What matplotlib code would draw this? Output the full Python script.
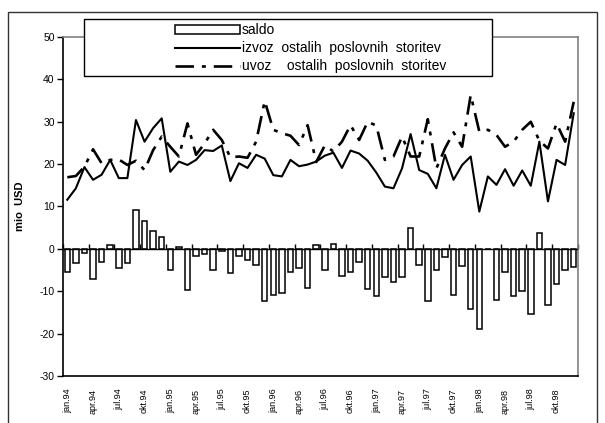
import numpy as np
import matplotlib
matplotlib.use("Agg")
import matplotlib.pyplot as plt
from matplotlib.patches import Rectangle

plt.rcParams['font.family'] = ['Liberation Sans', 'DejaVu Sans']
plt.rcParams['axes.unicode_minus'] = False

months = ['jan', 'feb', 'mar', 'apr', 'maj', 'jun', 'jul', 'avg', 'sep', 'okt', 'nov', 'dec']
years = ['94', '95', '96', '97', '98']
categories = [f"{m}.{y}" for y in years for m in months]

saldo = [-5.4, -3.3, -0.9, -7.1, -3.0, 0.9, -4.6, -3.4, 9.1, 6.6,
         4.2, 2.9, -5.0, 0.4, -9.6, -1.7, -1.3, -5.0, -0.4, -5.8,
         -1.7, -2.6, -3.8, -12.4, -10.9, -10.4, -5.4, -4.6, -9.2, 0.9,
         -5.0, 1.2, -6.3, -5.4, -3.0, -9.5, -11.2, -6.7, -7.9, -6.7,
         5.0, -3.8, -12.4, -5.0, -2.0, -10.8, -4.1, -14.1, -19.0, 0.0,
         -12.0, -5.4, -11.2, -9.9, -15.4, 3.7, -13.2, -8.3, -5.0, -4.2]

izvoz = [11.6, 14.3, 19.3, 16.3, 17.5, 21.0, 16.7, 16.7, 30.4, 25.3,
         28.5, 30.8, 18.2, 20.6, 19.8, 21.0, 23.3, 23.1, 24.4, 16.0,
         20.2, 19.1, 22.2, 21.3, 17.4, 17.1, 21.0, 19.5, 19.9, 20.6,
         22.0, 22.7, 19.1, 23.2, 22.5, 20.8, 18.0, 14.7, 14.3, 19.0,
         27.1, 18.6, 17.7, 14.3, 22.2, 16.3, 19.8, 21.8, 8.8, 17.1,
         15.1, 18.8, 14.9, 18.5, 14.9, 25.3, 11.2, 21.0, 19.8, 32.0]

uvoz = [16.9, 17.2, 19.4, 23.5, 20.2, 21.0, 21.1, 19.8, 20.8, 18.6,
        23.3, 26.5, 24.1, 21.8, 29.6, 22.2, 24.9, 28.1, 25.7, 21.6,
        21.8, 21.5, 25.3, 34.9, 28.1, 27.3, 26.7, 24.5, 29.2, 20.5,
        24.4, 23.0, 25.3, 29.2, 25.7, 30.0, 29.1, 21.0, 21.8, 26.5,
        21.8, 21.8, 30.6, 19.0, 23.7, 27.5, 24.1, 36.3, 27.7, 28.1,
        26.9, 24.1, 25.3, 28.1, 30.0, 25.5, 23.7, 29.6, 25.3, 34.7]

labels = ['saldo', 'izvoz  ostalih  poslovnih  storitev',
          'uvoz    ostalih  poslovnih  storitev']

W, H = 605, 423
fig = plt.figure(figsize=(W / 100, H / 100), dpi=100)
ax = fig.add_axes([63 / W, 1 - 376 / H, (578 - 63) / W, (376 - 37) / H])

x = np.arange(len(categories))
bars = ax.bar(x, saldo, width=0.65, facecolor='white', edgecolor='black',
              linewidth=1.1, zorder=2, label=labels[0])
l1, = ax.plot(x, izvoz, color='black', lw=1.5, zorder=3, label=labels[1])
l2, = ax.plot(x, uvoz, color='black', lw=1.9, zorder=3,
              linestyle=(0, (7, 3, 1.5, 3)), label=labels[2])

ax.set_xlim(-0.5, len(categories) - 0.5)
ax.set_ylim(-30, 50)
ax.set_yticks(np.arange(-30, 51, 10))
ax.tick_params(axis='y', labelsize=7.5, length=4, width=1, direction='out', pad=2)
ax.set_xticks(x[::3])
ax.set_xticklabels(categories[::3], rotation=90, fontsize=6.5)
ax.tick_params(axis='x', length=0, pad=9)

for s in ['top', 'right']:
    ax.spines[s].set_color('#808080')
    ax.spines[s].set_linewidth(1.2)
for s in ['left', 'bottom']:
    ax.spines[s].set_color('black')
    ax.spines[s].set_linewidth(1.2)

# category axis crossing at zero
ax.axhline(0, color='black', lw=1.0, zorder=4)
zero_ax = ax.secondary_xaxis((0 - (-30)) / 80.0)
zero_ax.set_xticks(np.arange(0, len(categories) + 1, 3) - 0.5)
zero_ax.set_xticklabels([])
zero_ax.tick_params(axis='x', direction='in', length=3.5, width=1, color='black')
zero_ax.spines['bottom'].set_visible(False)
zero_ax.spines['top'].set_visible(False)

fig.text(20 / W, 1 - 206 / H, 'mio  USD', rotation=90, fontsize=8,
         fontweight='bold', ha='center', va='center')

# legend box (wide frame, entries offset to the right)
box = Rectangle((84 / W, 1 - 76 / H), (492 - 84) / W, (76 - 19) / H,
                transform=fig.transFigure, facecolor='white',
                edgecolor='black', linewidth=1.0, zorder=5)
fig.add_artist(box)

leg = fig.legend(handles=[bars, l1, l2], labels=labels,
                 loc='upper left', bbox_to_anchor=(175 / W, 1 - 23 / H),
                 fontsize=10, frameon=False,
                 handlelength=4.7, handleheight=0.6, handletextpad=0.1,
                 labelspacing=0.3, borderpad=0.0, borderaxespad=0)
leg.set_zorder(6)

fig.add_artist(Rectangle((8 / W, -0.02), (597 - 8) / W, 1 - 12 / H + 0.02,
                         transform=fig.transFigure, fill=False,
                         edgecolor='#333333', linewidth=1.0, zorder=7))

fig.savefig('out.png', dpi=100)
